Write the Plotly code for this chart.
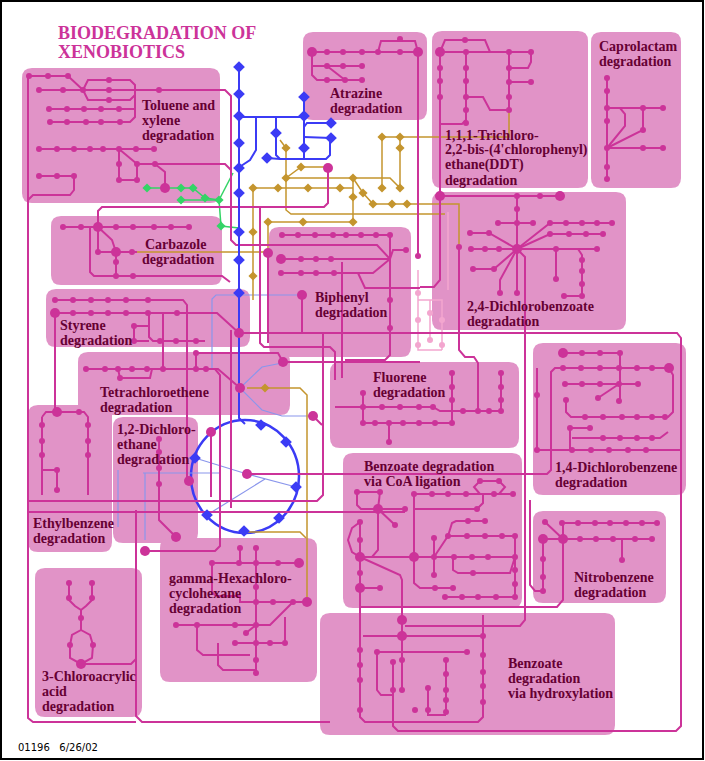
import plotly.graph_objects as go

W, H = 705, 761

PINK = "#cc3399"
BOX_FILL = "rgb(225,147,199)"
LABEL_COLOR = "#660033"
BLUE = "#3b3bf5"
LBLUE = "#8a96ec"
GOLD = "#c4952e"
GREEN = "#33d466"
LPINK = "#f3a6cf"

# pathway boxes, map pixels (x0, y0, x1, y1)
BOXES = [
    (22, 68, 220, 203),    # toluene
    (303, 32, 427, 120),   # atrazine
    (432, 31, 588, 188),   # DDT
    (591, 32, 681, 188),   # caprolactam
    (51, 216, 222, 285),   # carbazole
    (269, 227, 411, 357),  # biphenyl
    (432, 192, 626, 330),  # 2,4-dichlorobenzoate
    (46, 289, 250, 347),   # styrene
    (78, 352, 290, 415),   # tetrachloroethene
    (113, 417, 198, 543),  # 1,2-dichloroethane
    (28, 405, 112, 552),   # ethylbenzene
    (330, 362, 519, 448),  # fluorene
    (533, 343, 686, 495),  # 1,4-dichlorobenzene
    (343, 453, 522, 608),  # benzoate CoA
    (533, 511, 666, 603),  # nitrobenzene
    (160, 538, 317, 682),  # gamma-HCH
    (35, 568, 142, 717),   # 3-chloroacrylic
    (320, 613, 615, 735),  # benzoate hydroxylation
]

# (x, y of first line, lines)
BOX_LABELS = [
    (140, 105, ["Toluene and", "xylene", "degradation"]),
    (328, 93, ["Atrazine", "degradation"]),
    (443, 135, ["1,1,1-Trichloro-", "2,2-bis-(4'chlorophenyl)", "ethane(DDT)", "degradation"]),
    (597, 46, ["Caprolactam", "degradation"]),
    (143, 244, ["Carbazole"]),
    (140, 259, ["degradation"]),
    (313, 297, ["Biphenyl", "degradation"]),
    (465, 306, ["2,4-Dichlorobenzoate", "degradation"]),
    (58, 325, ["Styrene", "degradation"]),
    (98, 392, ["Tetrachloroethene", "degradation"]),
    (115, 429, ["1,2-Dichloro-", "ethane", "degradation"]),
    (31, 523, ["Ethylbenzene", "degradation"]),
    (371, 377, ["Fluorene", "degradation"]),
    (362, 466, ["Benzoate degradation", "via CoA ligation"]),
    (553, 467, ["1,4-Dichlorobenzene", "degradation"]),
    (572, 577, ["Nitrobenzene", "degradation"]),
    (167, 578, ["gamma-Hexachloro-", "cyclohexane", "degradation"]),
    (40, 676, ["3-Chloroacrylic", "acid", "degradation"]),
    (506, 663, ["Benzoate", "degradation", "via hydroxylation"]),
]

TITLE_LINES = ["BIODEGRADATION OF", "XENOBIOTICS"]
FOOTER = "01196   6/26/02"

PINK_PATHS = [
    # toluene and xylene
    [(28, 76), (68, 76), (83, 90)],
    [(28, 76), (28, 718), (33, 722), (136, 722)],
    [(39, 90), (225, 90), (231, 96), (231, 240), (236, 245), (377, 245), (390, 259)],
    [(83, 90), (88, 80), (130, 80), (135, 85), (135, 95), (130, 100), (88, 100), (83, 90)],
    [(49, 109), (135, 109)],
    [(50, 122), (130, 122), (135, 117), (135, 90)],
    [(39, 149), (154, 149)],
    [(119, 149), (137, 164)],
    [(119, 149), (119, 180), (137, 180), (137, 164)],
    [(137, 164), (225, 164), (231, 170)],
    [(155, 164), (165, 172), (165, 188)],
    [(39, 176), (74, 176), (74, 190), (70, 195), (33, 195), (28, 200)],
    # long links
    [(98, 232), (98, 211), (102, 207), (324, 207), (328, 203), (328, 168)],
    [(260, 207), (260, 343), (264, 347), (330, 347), (335, 352), (335, 380)],
    [(28, 512), (405, 512)],
    [(231, 330), (231, 508)],
    [(136, 510), (136, 716), (142, 722), (330, 722)],
    # carbazole
    [(63, 227), (189, 227)],
    [(98, 227), (112, 240), (116, 252)],
    [(98, 227), (98, 252), (137, 252)],
    [(116, 252), (116, 276)],
    [(90, 227), (90, 272), (94, 276), (222, 276), (230, 282)],
    # styrene
    [(55, 300), (183, 300), (187, 305), (187, 478)],
    [(55, 313), (217, 313), (239, 333)],
    [(55, 313), (55, 412)],
    [(149, 313), (149, 337), (153, 341), (205, 341)],
    [(134, 326), (149, 326)],
    [(134, 326), (134, 341), (149, 341)],
    [(163, 313), (163, 369)],
    [(239, 333), (677, 333), (681, 338), (681, 726), (676, 731), (398, 731), (393, 726), (393, 660)],
    [(323, 333), (323, 495), (317, 501), (28, 501)],
    # tetrachloroethene
    [(86, 369), (218, 369), (240, 388)],
    [(118, 369), (120, 378), (150, 378), (152, 369)],
    [(196, 369), (196, 353), (278, 353), (283, 362)],
    [(283, 362), (420, 362)],
    [(313, 416), (322, 425)],
    # biphenyl
    [(282, 235), (390, 235), (390, 355), (385, 360), (345, 360)],
    [(281, 259), (390, 259)],
    [(281, 273), (373, 273), (390, 259)],
    [(358, 273), (365, 288), (420, 288)],
    [(390, 259), (393, 250), (406, 250)],
    [(302, 295), (302, 333)],
    [(268, 253), (268, 343)],
    [(342, 262), (342, 378)],
    # atrazine
    [(418, 52), (418, 256)],
    [(312, 52), (418, 52)],
    [(378, 52), (381, 41), (415, 41), (418, 52)],
    [(312, 52), (312, 75), (317, 80), (362, 80)],
    [(312, 66), (362, 66)],
    [(327, 66), (345, 80)],
    # DDT
    [(440, 52), (531, 52)],
    [(440, 52), (445, 40), (485, 40), (490, 52)],
    [(440, 52), (440, 196)],
    [(466, 52), (466, 120), (462, 124), (440, 124)],
    [(466, 97), (483, 97), (490, 110), (509, 110)],
    [(509, 52), (509, 110)],
    [(509, 68), (528, 68), (531, 62), (531, 52)],
    [(509, 82), (531, 82)],
    # caprolactam
    [(607, 78), (607, 179)],
    [(607, 108), (663, 108)],
    [(607, 148), (643, 130), (643, 108)],
    [(607, 148), (663, 148)],
    [(607, 108), (620, 108), (625, 114), (625, 126), (607, 148)],
    # 2,4-dichlorobenzoate
    [(440, 196), (560, 196)],
    [(440, 196), (440, 280), (434, 287), (420, 287)],
    [(517, 196), (517, 293)],
    [(498, 223), (533, 223)],
    [(470, 233), (489, 233), (517, 249)],
    [(471, 249), (597, 249)],
    [(473, 269), (494, 269), (517, 249)],
    [(517, 249), (505, 272), (500, 280), (500, 293)],
    [(556, 249), (556, 279)],
    [(578, 249), (582, 255), (582, 296), (564, 296)],
    [(517, 249), (550, 223), (612, 223)],
    [(517, 249), (550, 234), (603, 234)],
    [(517, 249), (525, 257), (525, 620), (520, 626), (405, 626)],
    [(459, 247), (459, 350), (465, 357), (474, 357), (478, 363), (478, 410)],
    # 1,4-dichlorobenzene
    [(563, 353), (620, 353), (620, 401)],
    [(247, 474), (547, 474), (551, 470), (551, 372), (555, 368), (669, 368)],
    [(565, 384), (638, 384)],
    [(598, 398), (619, 384)],
    [(566, 400), (566, 412), (571, 417), (668, 417), (673, 412), (673, 375), (669, 368)],
    [(590, 428), (570, 428), (570, 450)],
    [(537, 368), (537, 450), (680, 450)],
    [(572, 438), (660, 438), (668, 432)],
    # fluorene
    [(335, 407), (433, 407), (440, 411), (501, 411)],
    [(363, 423), (452, 423)],
    [(363, 393), (363, 423)],
    [(389, 423), (389, 442)],
    [(452, 373), (452, 423)],
    [(501, 373), (501, 411)],
    # benzoate via CoA ligation
    [(357, 492), (380, 492)],
    [(357, 492), (357, 505), (361, 509), (405, 509)],
    [(380, 492), (378, 509)],
    [(378, 509), (395, 525)],
    [(378, 509), (378, 550), (372, 557), (360, 557)],
    [(360, 522), (352, 528), (348, 540), (352, 552), (360, 557)],
    [(360, 522), (360, 717), (365, 722), (478, 722), (483, 717), (483, 615)],
    [(360, 557), (515, 557)],
    [(360, 557), (400, 575), (402, 580), (402, 690)],
    [(414, 494), (414, 583), (420, 588), (453, 588)],
    [(414, 494), (513, 494)],
    [(480, 494), (474, 487), (480, 481), (499, 481), (505, 487), (499, 494)],
    [(414, 509), (477, 509), (483, 503), (483, 494)],
    [(434, 538), (434, 575)],
    [(434, 557), (448, 536), (515, 536)],
    [(448, 536), (452, 523), (456, 521), (485, 521)],
    [(515, 536), (515, 597)],
    [(445, 597), (515, 597)],
    [(453, 557), (453, 570), (458, 573), (510, 573), (515, 557)],
    [(360, 588), (380, 588)],
    # benzoate via hydroxylation
    [(363, 636), (483, 636)],
    [(377, 652), (467, 652)],
    [(446, 660), (446, 712)],
    [(428, 688), (428, 715), (446, 715)],
    [(377, 652), (377, 690), (381, 695), (393, 695)],
    # nitrobenzene
    [(562, 523), (657, 523)],
    [(543, 539), (652, 539)],
    [(545, 522), (563, 539)],
    [(563, 523), (563, 600), (557, 607), (360, 607)],
    [(543, 539), (543, 591)],
    [(622, 539), (622, 560)],
    [(530, 500), (530, 585), (535, 591), (543, 591)],
    # gamma-HCH
    [(212, 563), (299, 563)],
    [(240, 548), (240, 563)],
    [(256, 548), (256, 673)],
    [(212, 563), (212, 592), (216, 596), (240, 596), (240, 602), (307, 602)],
    [(176, 625), (270, 625), (293, 602)],
    [(246, 633), (256, 625)],
    [(197, 625), (197, 650), (203, 655), (250, 655)],
    [(235, 643), (285, 643), (285, 617)],
    [(218, 643), (218, 665), (223, 670), (256, 670)],
    # 3-chloroacrylic acid
    [(69, 583), (69, 600), (75, 606), (81, 610), (81, 630)],
    [(92, 583), (92, 600), (86, 606), (81, 610)],
    [(81, 630), (72, 635), (70, 645), (70, 658), (81, 664), (92, 658), (93, 645), (90, 635), (81, 630)],
    [(81, 664), (131, 664), (136, 659)],
    # ethylbenzene
    [(42, 417), (46, 412), (84, 412), (88, 417), (88, 495)],
    [(42, 417), (42, 495)],
    [(42, 470), (57, 470), (57, 490)],
    # 1,2-dichloroethane
    [(159, 439), (159, 520), (176, 537)],
    [(145, 551), (215, 551), (220, 546), (220, 375), (215, 369)],
    [(211, 432), (211, 497)],
]

PINK_NODES = [
    (29, 76), (48, 76), (68, 76), (39, 90), (63, 90), (83, 90), (109, 90), (159, 90),
    (109, 80), (109, 100), (49, 109), (67, 109), (84, 109), (101, 109), (119, 109),
    (50, 122), (67, 122), (86, 122), (101, 122), (120, 122), (39, 149), (57, 149),
    (74, 149), (90, 149), (103, 149), (119, 149), (136, 149), (154, 149), (119, 164),
    (119, 180), (137, 180), (137, 164), (155, 164), (39, 176), (57, 176), (74, 176),
    (63, 227), (81, 227), (116, 227), (133, 227), (154, 227), (171, 227), (189, 227),
    (98, 252), (132, 252), (116, 262), (116, 276), (133, 276),
    (55, 300), (73, 300), (91, 300), (108, 300), (126, 300), (148, 300), (73, 313),
    (91, 313), (108, 313), (126, 313), (148, 313), (177, 313), (160, 341), (176, 341),
    (196, 341), (134, 326), (134, 341),
    (86, 369), (105, 369), (118, 369), (132, 369), (147, 369), (163, 369), (196, 369),
    (206, 369), (120, 378), (196, 353),
    (79, 412), (42, 425), (42, 441), (42, 455), (88, 425), (88, 441), (88, 455),
    (57, 470), (57, 490),
    (159, 439), (159, 452), (159, 468), (159, 484),
    (282, 235), (298, 235), (315, 235), (333, 235), (346, 235), (361, 235), (376, 235),
    (390, 235), (301, 259), (316, 259), (331, 259), (281, 273), (301, 273), (316, 273),
    (334, 273), (406, 250), (390, 300), (390, 328),
    (327, 52), (343, 52), (362, 52), (378, 52), (400, 52), (400, 39), (327, 66),
    (343, 66), (362, 66), (327, 80), (345, 80), (362, 80), (418, 256),
    (466, 52), (509, 52), (531, 52), (465, 40), (440, 68), (440, 81), (440, 97),
    (466, 68), (466, 81), (466, 97), (466, 110), (466, 123), (509, 68), (509, 82),
    (509, 97), (509, 110), (531, 82),
    (607, 78), (607, 91), (607, 108), (607, 121), (607, 148), (607, 167), (607, 179),
    (643, 108), (663, 108), (643, 130), (643, 148), (663, 148),
    (517, 196), (540, 196), (517, 209), (517, 223), (498, 223), (533, 223), (470, 233),
    (489, 233), (471, 249), (485, 249), (499, 249), (556, 249), (597, 249), (473, 269),
    (494, 269), (500, 293), (517, 293), (556, 279), (582, 260), (582, 271), (582, 284),
    (582, 296), (564, 296), (550, 223), (566, 223), (582, 223), (597, 223), (612, 223),
    (550, 234), (569, 234), (586, 234), (603, 234), (459, 247),
    (582, 353), (600, 353), (620, 353), (563, 368), (581, 368), (600, 368), (619, 368),
    (637, 368), (652, 368), (565, 384), (582, 384), (600, 384), (619, 384), (638, 384),
    (598, 398), (619, 401), (566, 400), (585, 417), (603, 417), (622, 417), (637, 417),
    (652, 417), (665, 417), (570, 428), (590, 428), (537, 395), (537, 450), (572, 450),
    (591, 450), (609, 450), (628, 450), (646, 450), (603, 438), (620, 438), (637, 438),
    (652, 438),
    (363, 407), (382, 407), (400, 407), (419, 407), (433, 407), (363, 423), (375, 423),
    (389, 423), (403, 423), (419, 423), (435, 423), (452, 423), (363, 393), (389, 442),
    (452, 373), (452, 387), (452, 400), (463, 411), (478, 411), (489, 411), (501, 411),
    (501, 373), (501, 387), (501, 400),
    (357, 492), (380, 492), (405, 509), (395, 525), (360, 522), (360, 540), (360, 573),
    (380, 588), (414, 494), (432, 494), (448, 494), (466, 494), (494, 494), (513, 494),
    (480, 481), (499, 481), (477, 509), (434, 538), (434, 557), (454, 557), (472, 557),
    (488, 557), (515, 557), (434, 575), (448, 536), (467, 536), (485, 536), (502, 536),
    (515, 536), (468, 521), (485, 521), (515, 570), (515, 584), (515, 597), (445, 597),
    (462, 597), (478, 597), (496, 597), (435, 588), (453, 588), (473, 573),
    (483, 636), (377, 652), (467, 652), (483, 655), (483, 672), (483, 686), (483, 702),
    (360, 650), (360, 665), (360, 680), (360, 710), (393, 662), (393, 690), (446, 660),
    (446, 674), (446, 690), (446, 700), (446, 712), (428, 688), (428, 710), (415, 710),
    (402, 660), (402, 690),
    (545, 522), (562, 523), (578, 523), (595, 523), (610, 523), (626, 523), (642, 523),
    (657, 523), (580, 539), (596, 539), (613, 539), (635, 539), (652, 539), (622, 560),
    (543, 559), (543, 577), (543, 591),
    (212, 563), (239, 563), (256, 563), (278, 563), (240, 548), (256, 548), (256, 587),
    (256, 602), (273, 602), (293, 602), (176, 625), (197, 625), (235, 625), (256, 625),
    (246, 633), (235, 643), (256, 643), (270, 643), (285, 643), (256, 660), (256, 673),
    (69, 583), (92, 583), (69, 598), (92, 598), (81, 618), (70, 645), (93, 645),
]

PINK_BIG_NODES = [
    (165, 188), (328, 168), (98, 227), (116, 252), (55, 313), (239, 333), (240, 388),
    (283, 362), (189, 481), (211, 432), (247, 474), (313, 416), (176, 537), (145, 551),
    (57, 412), (281, 259), (268, 253), (302, 295), (418, 52), (312, 52), (440, 52),
    (440, 196), (560, 196), (517, 249), (563, 353), (669, 368), (299, 563), (307, 602),
    (81, 664), (360, 557), (378, 509), (414, 557), (360, 588), (402, 620), (402, 636),
    (543, 539), (563, 539),
]

BLUE_PATHS = [
    [(239, 67), (239, 418), (245, 424)],
    [(239, 117), (304, 117)],
    [(304, 97), (304, 158)],
    [(256, 117), (256, 150), (250, 160), (241, 166)],
    [(276, 117), (276, 155), (280, 159), (326, 159), (330, 155), (330, 138)],
    [(267, 158), (280, 159)],
    [(304, 127), (307, 123), (331, 123)],
    [(304, 137), (331, 138)],
]
BLUE_NODES = [
    (239, 67), (239, 94), (239, 116), (239, 143), (239, 168), (239, 193), (239, 232),
    (239, 260), (239, 293), (304, 97), (304, 116), (276, 133), (304, 148), (267, 158),
    (331, 123), (331, 138),
    (261, 425), (286, 442), (296, 487), (279, 518), (244, 531), (207, 515), (195, 458),
]
CYCLE_BOUNDS = (191, 420, 299, 533)

LBLUE_PATHS = [
    [(195, 458), (247, 474), (296, 487)],
    [(265, 479), (207, 515)],
    [(212, 370), (212, 299), (216, 295), (302, 295)],
    [(240, 388), (262, 367), (282, 363)],
    [(240, 388), (262, 410), (282, 416), (313, 416)],
    [(118, 470), (118, 527)],
    [(143, 473), (220, 473)],
    [(145, 473), (145, 540)],
]

GOLD_PATHS = [
    [(280, 140), (286, 148), (286, 210), (291, 214), (445, 214)],
    [(286, 178), (390, 178), (400, 188)],
    [(286, 178), (301, 167), (326, 167)],
    [(253, 188), (353, 188)],
    [(353, 178), (353, 222)],
    [(268, 222), (353, 222)],
    [(268, 222), (268, 260)],
    [(253, 188), (253, 300)],
    [(353, 178), (363, 193), (373, 204), (459, 204), (459, 246)],
    [(382, 137), (509, 137), (509, 110)],
    [(382, 137), (382, 188)],
    [(400, 137), (400, 188)],
    [(137, 252), (268, 252)],
    [(247, 388), (300, 388), (307, 395), (307, 600)],
    [(248, 532), (300, 532), (306, 538)],
]
GOLD_NODES = [
    (286, 148), (286, 178), (301, 167), (278, 188), (308, 188), (340, 188), (353, 178),
    (353, 197), (353, 222), (363, 193), (373, 204), (392, 204), (407, 204), (382, 137),
    (400, 137), (400, 148), (382, 188), (400, 188), (268, 222), (303, 222), (253, 188),
    (253, 232), (253, 276), (265, 388),
]

GREEN_PATHS = [
    [(147, 188), (193, 188), (205, 198), (219, 200)],
    [(181, 200), (219, 200)],
    [(219, 200), (233, 173)],
    [(219, 200), (221, 226), (239, 228)],
]
GREEN_NODES = [(147, 188), (181, 188), (193, 188), (205, 198), (181, 200), (219, 200), (221, 226)]

LPINK_PATHS = [
    [(418, 270), (418, 350), (442, 350)],
    [(418, 300), (442, 300), (442, 350)],
    [(430, 300), (430, 340)],
    [(448, 212), (448, 290)],
]
LPINK_NODES = [(418, 293), (418, 320), (430, 313), (430, 340), (442, 345), (418, 345), (442, 320)]


def rounded_box(x0, y0, x1, y1, r=10):
    return (f"M {x0 + r},{y0} L {x1 - r},{y0} Q {x1},{y0} {x1},{y0 + r} "
            f"L {x1},{y1 - r} Q {x1},{y1} {x1 - r},{y1} L {x0 + r},{y1} "
            f"Q {x0},{y1} {x0},{y1 - r} L {x0},{y0 + r} Q {x0},{y0} {x0 + r},{y0} Z")


def flatten(paths):
    xs, ys = [], []
    for p in paths:
        xs += [pt[0] for pt in p] + [None]
        ys += [pt[1] for pt in p] + [None]
    return xs, ys


def line_trace(paths, color, width):
    xs, ys = flatten(paths)
    return go.Scatter(x=xs, y=ys, mode="lines", hoverinfo="skip",
                      line=dict(color=color, width=width))


def node_trace(nodes, color, size, symbol="circle"):
    return go.Scatter(x=[n[0] for n in nodes], y=[n[1] for n in nodes], mode="markers",
                      hoverinfo="skip", marker=dict(color=color, size=size, symbol=symbol,
                                                    line=dict(width=0)))


fig = go.Figure()

shapes = []
for b in BOXES:
    shapes.append(dict(type="path", path=rounded_box(*b), xref="x", yref="y",
                       fillcolor=BOX_FILL, line=dict(width=0), layer="below"))
cx0, cy0, cx1, cy1 = CYCLE_BOUNDS
shapes.append(dict(type="circle", x0=cx0, y0=cy0, x1=cx1, y1=cy1, xref="x", yref="y",
                   line=dict(color=BLUE, width=2.5), layer="below"))
# frame round the whole map
shapes.append(dict(type="rect", x0=1, y0=1, x1=703, y1=759, xref="x", yref="y",
                   line=dict(color="black", width=2)))

fig.add_trace(line_trace(LPINK_PATHS, LPINK, 1.5))
fig.add_trace(line_trace(LBLUE_PATHS, LBLUE, 1.2))
fig.add_trace(line_trace(GOLD_PATHS, GOLD, 1.5))
fig.add_trace(line_trace(GREEN_PATHS, GREEN, 1.5))
fig.add_trace(line_trace(PINK_PATHS, PINK, 2))
fig.add_trace(line_trace(BLUE_PATHS, BLUE, 2))
fig.add_trace(node_trace(LPINK_NODES, LPINK, 6))
fig.add_trace(node_trace(GOLD_NODES, GOLD, 7, "diamond"))
fig.add_trace(node_trace(GREEN_NODES, GREEN, 7, "diamond"))
fig.add_trace(node_trace(BLUE_NODES, BLUE, 9, "diamond"))
fig.add_trace(node_trace(PINK_NODES, PINK, 6))
fig.add_trace(node_trace(PINK_BIG_NODES, PINK, 10))

annotations = []
for x, y, lines in BOX_LABELS:
    for i, txt in enumerate(lines):
        annotations.append(dict(x=x, y=y + 15 * i, text=txt, xref="x", yref="y",
                                xanchor="left", yanchor="middle", showarrow=False,
                                font=dict(family="Liberation Serif", size=14,
                                          color=LABEL_COLOR, weight="bold")))
for i, txt in enumerate(TITLE_LINES):
    annotations.append(dict(x=56, y=33 + 19 * i, text=txt, xref="x", yref="y",
                            xanchor="left", yanchor="middle", showarrow=False,
                            font=dict(family="Liberation Serif", size=18,
                                      color=PINK, weight="bold")))
annotations.append(dict(x=16, y=747, text=FOOTER, xref="x", yref="y", xanchor="left",
                        yanchor="middle", showarrow=False,
                        font=dict(family="DejaVu Sans", size=10, color="black")))

fig.update_layout(
    width=W, height=H,
    margin=dict(l=0, r=0, t=0, b=0),
    paper_bgcolor="white", plot_bgcolor="white",
    showlegend=False,
    shapes=shapes,
    annotations=annotations,
    xaxis=dict(range=[0, W], visible=False, fixedrange=True),
    yaxis=dict(range=[H, 0], visible=False, fixedrange=True),
)

# the page body has a default margin; drop it so the map sits at the window edge
fig.write_html("out.html", config={"displayModeBar": False},
               post_script="document.body.style.margin='0';document.body.style.overflow='hidden';")
